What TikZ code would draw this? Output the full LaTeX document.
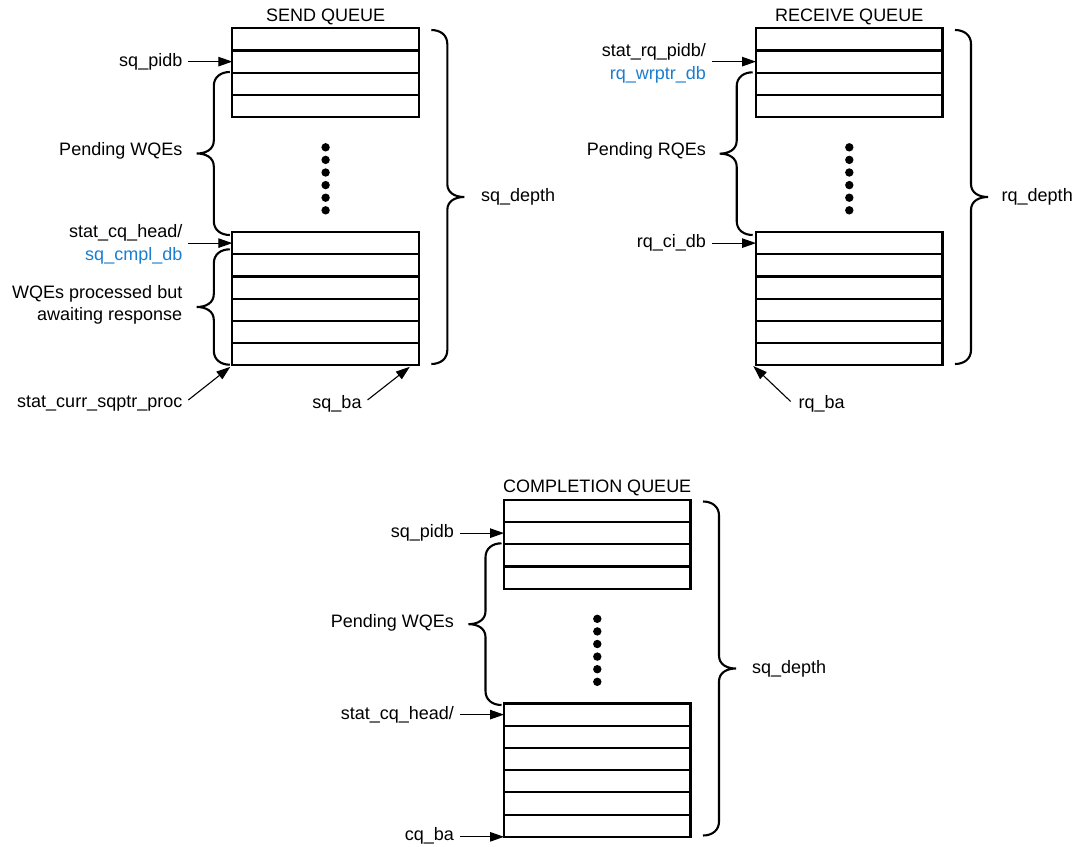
\documentclass[tikz,border=0pt]{standalone}
\usepackage{fontspec}
\setmainfont{Liberation Sans}
\usetikzlibrary{arrows.meta}
\definecolor{lblblue}{RGB}{28,126,206}
\tikzset{
 cell/.style={draw, line width=2.2pt, minimum width=186.5pt, minimum height=22.22pt, anchor=north west, inner sep=0pt, outer sep=0pt},
 qdot/.style={circle, fill=black, inner sep=0pt, minimum size=8.4pt},
 txt/.style={font=\fontsize{18}{22.4}\selectfont, inner sep=0pt, outer xsep=6pt, outer ysep=0pt},
 lbl/.style={txt, anchor=east, align=right},
 rlbl/.style={txt, anchor=west},
 ttl/.style={txt, anchor=center},
 arr/.style={-{Triangle[length=14pt,width=9.5pt]}, line width=1.1pt},
 brc/.style={line width=2.1pt}
}
\newcommand\queuedraw[4]{%
 \node[ttl] (#1title) at ({#2+93.25},{#3-11.7}) {#4};
 \foreach \k in {1,...,4}{\node[cell] (#1t\k) at ({#2},{#3+(\k-1)*22.22}) {};}
 \foreach \k in {1,...,6}{\node[cell] (#1b\k) at ({#2},{#3+203.7+(\k-1)*22.22}) {};}
 \foreach \k in {0,...,5}{\node[qdot] (#1d\k) at ({#2+93.3},{#3+119+\k*12.6}) {};}
}
\newcommand\bracedraw[4]{%
 \draw[brc, shift={(#2,#3)}, #1] (0,0) .. controls (-9,0) and (-16,5) .. (-16,14)
   -- (-16,{#4/2-13}) .. controls (-16,{#4/2-4}) and (-24,{#4/2}) .. (-33,{#4/2})
   .. controls (-24,{#4/2}) and (-16,{#4/2+4}) .. (-16,{#4/2+13})
   -- (-16,{#4-14}) .. controls (-16,{#4-5}) and (-9,{#4}) .. (0,{#4});
}
\begin{document}
\begin{tikzpicture}[x=1pt,y=-1pt]
\fill[white] (0,0) rectangle (1076,846);
\useasboundingbox (0,0) rectangle (1076,846);

% ---------- SEND QUEUE ----------
\queuedraw{S}{232.3}{28.3}{SEND QUEUE}
\node[lbl] (pidbS) at (188.3,61.7) {sq\_pidb};
\draw[arr] (pidbS.east |- St2.west) -- (St2.west);
\node[lbl] (pendS) at (188.3,151) {Pending WQEs};
\node[lbl] (headS) at (188.3,244.5) {stat\_cq\_head/\\\textcolor{lblblue}{sq\_cmpl\_db}};
\draw[arr] (headS.east |- Sb1.west) -- (Sb1.west);
\node[lbl] (procS) at (188.3,305) {WQEs processed but\\awaiting response};
\node[lbl] (currS) at (188.3,404) {stat\_curr\_sqptr\_proc};
\draw[arr] ([yshift=4pt]currS.east) -- ([shift={(-2,1.5)}]Sb6.south west);
\node[ttl] (baS) at (337,404) {sq\_ba};
\draw[arr] ([yshift=4pt]baS.east) -- ([shift={(-9,1.5)}]Sb6.south east);
\node[rlbl] (depthS) at (475,196.7) {sq\_depth};
\bracedraw{}{229.8}{72}{163}
\bracedraw{}{229.8}{249.3}{115.4}
\bracedraw{xscale=-1}{431.3}{30}{334}

% ---------- RECEIVE QUEUE ----------
\queuedraw{R}{756}{28.3}{RECEIVE QUEUE}
\node[lbl] (pidbR) at (712,63.5) {stat\_rq\_pidb/\\\textcolor{lblblue}{rq\_wrptr\_db}};
\draw[arr] (pidbR.east |- Rt2.west) -- (Rt2.west);
\node[lbl] (pendR) at (712,151) {Pending RQEs};
\node[lbl] (ciR) at (712,243.1) {rq\_ci\_db};
\draw[arr] (ciR.east |- Rb1.west) -- (Rb1.west);
\node[ttl] (baR) at (821.7,404) {rq\_ba};
\draw[arr] ([shift={(-2,-2.5)}]baR.west) -- ([shift={(-2.7,0.7)}]Rb6.south west);
\node[rlbl] (depthR) at (995.7,196.7) {rq\_depth};
\bracedraw{}{752.7}{72.3}{162.7}
\bracedraw{xscale=-1}{955}{30}{334}

% ---------- COMPLETION QUEUE ----------
\queuedraw{C}{504}{499.8}{COMPLETION QUEUE}
\node[lbl] (pidbC) at (460,533.2) {sq\_pidb};
\draw[arr] (pidbC.east |- Ct2.west) -- (Ct2.west);
\node[lbl] (pendC) at (460,623.3) {Pending WQEs};
\node[lbl] (headC) at (460,714.6) {stat\_cq\_head/};
\draw[arr] (headC.east |- Cb1.west) -- (Cb1.west);
\node[lbl] (baC) at (460,836) {cq\_ba};
\draw[arr] (baC.east |- Cb6.south west) -- (Cb6.south west);
\node[rlbl] (depthC) at (746,669) {sq\_depth};
\bracedraw{}{501.5}{543.3}{161.7}
\bracedraw{xscale=-1}{703}{501.5}{334}
\end{tikzpicture}
\end{document}
